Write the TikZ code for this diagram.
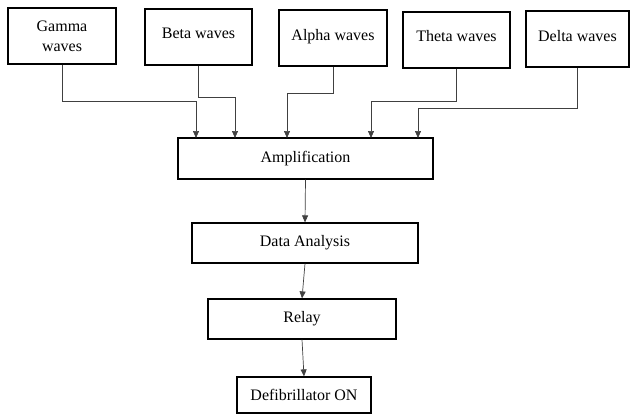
\documentclass[tikz,border=0pt]{standalone}
\usepackage{fontspec}
\setmainfont{Liberation Serif}
\usetikzlibrary{arrows.meta}

\tikzset{
  block/.style={draw, line width=1.2pt, inner sep=0pt, align=center,
    font=\fontsize{16}{20}\selectfont},
  conn/.style={draw=black!75, line width=0.7pt,
    -{Triangle[width=6pt,length=7pt]}}
}

\begin{document}
\begin{tikzpicture}[x=1pt,y=-1pt]
\useasboundingbox (0,0) rectangle (630,413);

% wave sources
\node[block, minimum width=108pt, minimum height=56pt] (gamma) at (62,36) {Gamma\\waves};
\node[block, minimum width=107pt, minimum height=56pt] (beta) at (198.5,37) {\raisebox{8pt}{Beta waves}};
\node[block, minimum width=108pt, minimum height=56pt] (alpha) at (333,38) {\raisebox{6pt}{Alpha waves}};
\node[block, minimum width=107pt, minimum height=56pt] (theta) at (456.5,40) {\raisebox{8pt}{Theta waves}};
\node[block, minimum width=103pt, minimum height=56pt] (delta) at (577.5,39) {\raisebox{7pt}{Delta waves}};

% processing chain
\node[block, minimum width=255pt, minimum height=41pt] (amp) at (305.5,158.5) {Amplification};
\node[block, minimum width=226pt, minimum height=40pt] (data) at (305,243) {Data Analysis};
\node[block, minimum width=188pt, minimum height=40pt] (relay) at (302,319) {Relay};
\node[block, minimum width=134pt, minimum height=36pt] (defib) at (304,395) {Defibrillator ON};

% entry points on amplification
\coordinate (in1) at (196,138);
\coordinate (in2) at (235,138);
\coordinate (in3) at (287,138);
\coordinate (in4) at (371,138);
\coordinate (in5) at (418,138);

\draw[conn] (gamma.south) -- (gamma.south |- 0,101) -| (in1);
\draw[conn] (beta.south) -- (beta.south |- 0,97) -| (in2);
\draw[conn] (alpha.south) -- (alpha.south |- 0,93) -| (in3);
\draw[conn] (theta.south) -- (theta.south |- 0,101) -| (in4);
\draw[conn] (delta.south) -- (delta.south |- 0,108) -| (in5);

\draw[conn] (amp.south) -- (data.north);
\draw[conn] (data.south) -- (relay.north);
\draw[conn] (relay.south) -- (defib.north);
\end{tikzpicture}
\end{document}
